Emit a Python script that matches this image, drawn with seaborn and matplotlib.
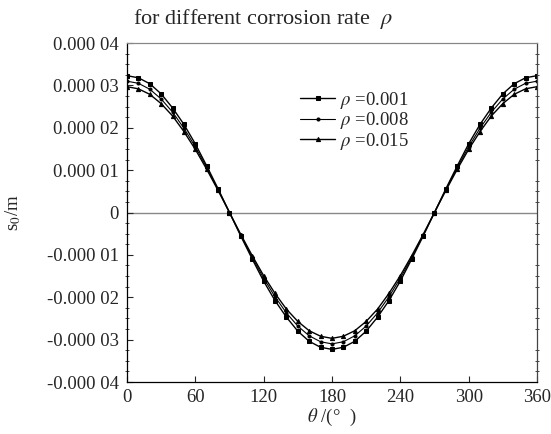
import numpy as np
import pandas as pd
import matplotlib
matplotlib.use("Agg")
import matplotlib.pyplot as plt
import seaborn as sns
from matplotlib.ticker import MultipleLocator

theta = list(range(0, 361, 10))
half1 = [32.3, 31.8, 30.4, 28.0, 24.7, 20.8, 16.2, 11.0, 5.6, 0.0,
         -5.6, -11.0, -16.2, -20.8, -24.7, -28.0, -30.4, -31.8, -32.3]
half2 = [31.0, 30.5, 29.1, 26.8, 23.7, 19.9, 15.5, 10.6, 5.4, 0.0,
         -5.4, -10.6, -15.5, -19.9, -23.7, -26.8, -29.1, -30.5, -31.0]
half3 = [29.7, 29.2, 27.9, 25.7, 22.8, 19.1, 14.9, 10.2, 5.2, 0.0,
         -5.2, -10.2, -14.9, -19.1, -22.8, -25.7, -27.9, -29.2, -29.7]
s_001 = [v * 1e-6 for v in half1 + half1[-2::-1]]
s_008 = [v * 1e-6 for v in half2 + half2[-2::-1]]
s_015 = [v * 1e-6 for v in half3 + half3[-2::-1]]

labels = [r"$\rho$ =0.001", r"$\rho$ =0.008", r"$\rho$ =0.015"]
series = [s_001, s_008, s_015]
markers = ["s", "o", "^"]
msizes = [2.4, 2.2, 3.0]
lws = [1.0, 0.8, 1.0]

ytick_vals = [4e-5, 3e-5, 2e-5, 1e-5, 0, -1e-5, -2e-5, -3e-5, -4e-5]
ytick_labels = ["0.000 04", "0.000 03", "0.000 02", "0.000 01", "0",
                "-0.000 01", "-0.000 02", "-0.000 03", "-0.000 04"]
xtick_vals = [0, 60, 120, 180, 240, 300, 360]

sns.set_style("ticks")
plt.rcParams["font.family"] = ["Liberation Serif", "DejaVu Serif"]
plt.rcParams["mathtext.fontset"] = "stix"

fig = plt.figure(figsize=(5.51, 4.34), dpi=100)
ax = fig.add_axes([0.2305, 0.1198, 0.744, 0.781])

for lab, s, m, ms, lw in zip(labels, series, markers, msizes, lws):
    df = pd.DataFrame({"theta": theta, "s": s})
    sns.lineplot(data=df, x="theta", y="s", ax=ax, color="black", lw=lw,
                 marker=m, markersize=ms, markeredgecolor="black",
                 markerfacecolor="black", label=lab)

ax.axhline(0, color="#888888", lw=1.0, zorder=0)
ax.set_xlim(0, 360)
ax.set_ylim(-4e-5, 4e-5)
ax.set_xticks(xtick_vals)
ax.set_xticklabels([str(v) for v in xtick_vals], fontsize=13.5)
ax.set_yticks(ytick_vals)
ax.set_yticklabels(ytick_labels, fontsize=13.5)
ax.yaxis.set_minor_locator(MultipleLocator(2.5e-6))
ax.tick_params(axis="both", which="major", direction="in", length=4, width=0.8)
ax.tick_params(axis="x", which="major", pad=5)
ax.tick_params(axis="y", which="major", pad=6)
ax.tick_params(axis="y", which="minor", direction="inout", length=2.5, width=0.6,
               right=True)
ax.tick_params(axis="x", which="minor", bottom=False)
for sp in ax.spines.values():
    sp.set_visible(True)
    sp.set_color("black")
    sp.set_linewidth(0.9)
ax.spines["top"].set_color("#888888")
ax.spines["right"].set_color("#444444")

ax.set_xlabel(r"$\theta$ /(°  )", fontsize=13.5, labelpad=1)
ax.set_ylabel(r"s$_0$/m", fontsize=13.5, labelpad=17)

leg = ax.legend(loc="upper left", bbox_to_anchor=(0.403, 0.885), frameon=False,
                fontsize=13.5, handlelength=1.9, handletextpad=0.25,
                labelspacing=-0.02, borderaxespad=0)

fig.text(133 / 551, 1 - 24 / 434, r"for different corrosion rate  $\rho$",
         fontsize=16, ha="left", va="baseline")

fig.savefig("out.png", dpi=100)
